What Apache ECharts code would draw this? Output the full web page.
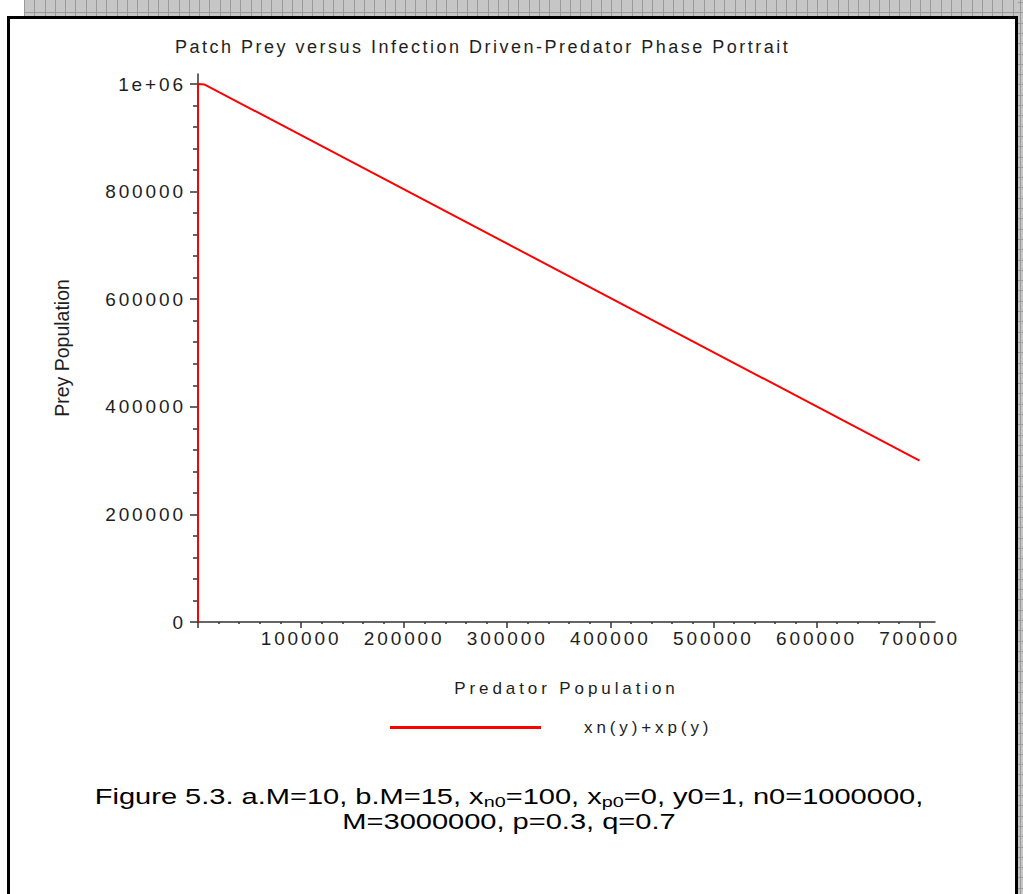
<!DOCTYPE html>
<html><head><meta charset="utf-8">
<script src="https://cdn.jsdelivr.net/npm/echarts@6/dist/echarts.min.js"></script>
<style>
html,body{margin:0;padding:0;background:#fff;}
#chart{width:1023px;height:894px;}
#chart text[style*="18px"]{letter-spacing:2.5px;}
#chart text[style*="19px"]{letter-spacing:2.9px;}
#chart text[style*="17px"]{letter-spacing:3.9px;}
</style></head><body><div id="chart"></div>
<script>
// ---- data ----
const predatorPop = [0, 0, 6500, 700000];
const preyPop = [0, 1000000, 999000, 300000];
const xTickValues = [0, 100000, 200000, 300000, 400000, 500000, 600000, 700000];
const xTickLabels = ['', '100000', '200000', '300000', '400000', '500000', '600000', '700000'];
const yTickValues = [0, 200000, 400000, 600000, 800000, 1000000];
const yTickLabels = ['0', '200000', '400000', '600000', '800000', '1e+06'];
const seriesName = 'xn(y)+xp(y)';
const titleText = 'Patch Prey versus Infection Driven-Predator Phase Portrait';
const xName = 'Predator Population';
const yName = 'Prey Population';

const xMinor = [], yMinor = [];
for (let i = 0; i < xTickValues.length - 1; i++) {
  const a = xTickValues[i], b = xTickValues[i + 1];
  for (let k = 1; k < 5; k++) xMinor.push(a + (b - a) * k / 5);
}
for (let i = 0; i < yTickValues.length - 1; i++) {
  const a = yTickValues[i], b = yTickValues[i + 1];
  for (let k = 1; k < 5; k++) yMinor.push(a + (b - a) * k / 5);
}

const FF = 'Liberation Sans';
const AX = '#333';
const TXT = '#1e1e1e';

// decorative hatched border
const deco = [];
deco.push({type:'rect', shape:{x:24,y:0,width:999,height:16}, style:{fill:'#c6c6c6'}, silent:true});
deco.push({type:'rect', shape:{x:1018,y:0,width:5,height:894}, style:{fill:'#c6c6c6'}, silent:true});
for (let x = 24; x < 1023; x += 10.3) {
  deco.push({type:'line', shape:{x1:Math.round(x)+0.5,y1:0,x2:Math.round(x)+0.5,y2:16}, style:{stroke:'#9a9a9a',lineWidth:1}, silent:true});
}
deco.push({type:'line', shape:{x1:24,y1:12.5,x2:1023,y2:12.5}, style:{stroke:'#9a9a9a',lineWidth:1}, silent:true});
for (let y = 2; y < 894; y += 10.3) {
  deco.push({type:'line', shape:{x1:1018,y1:Math.round(y)+0.5,x2:1023,y2:Math.round(y)+0.5}, style:{stroke:'#9a9a9a',lineWidth:1}, silent:true});
}
deco.push({type:'line', shape:{x1:1020.5,y1:0,x2:1020.5,y2:894}, style:{stroke:'#9a9a9a',lineWidth:1}, silent:true});
deco.push({type:'rect', shape:{x:8.5,y:17.5,width:1008,height:900}, style:{fill:'none',stroke:'#000',lineWidth:3}, silent:true});

// caption (horizontally stretched like the reference)
deco.push({
  type:'text', x:509, y:784, scaleX:1.32, silent:true,
  style:{
    text:'{n|Figure 5.3. a.M=10, b.M=15, x}{s|n0}{n|=100, x}{s|p0}{n|=0, y0=1, n0=1000000,}\n{n|M=3000000, p=0.3, q=0.7}',
    align:'center', verticalAlign:'top',
    rich:{
      n:{fontSize:22, fontFamily:FF, fill:'#000', lineHeight:25},
      s:{fontSize:15, fontFamily:FF, fill:'#000', lineHeight:15, verticalAlign:'bottom'}
    }
  }
});

const data = predatorPop.map((x, i) => [x, preyPop[i]]);
const fmtX = v => { const i = xTickValues.indexOf(v); return i >= 0 ? xTickLabels[i] : ''; };
const fmtY = v => { const i = yTickValues.indexOf(v); return i >= 0 ? yTickLabels[i] : ''; };

const chart = echarts.init(document.getElementById('chart'), null, {renderer:'svg'});
chart.setOption({
  animation:false,
  backgroundColor:'#fff',
  title:{text:titleText, left:170, top:33, textStyle:{fontSize:18, fontWeight:'normal', color:TXT, fontFamily:FF}},
  legend:{
    left:385, top:714, itemWidth:151, itemHeight:3, icon:'rect',
    data:[{name:seriesName}],
    formatter: n => '{t|' + n + '}',
    textStyle:{color:TXT, fontSize:17, fontFamily:FF, rich:{t:{fontSize:17, fontFamily:FF, color:TXT, padding:[0,0,0,38]}}}
  },
  grid:{left:198, right:88, top:74, bottom:272, containLabel:false},
  xAxis:[{
    type:'value', min:0, max:715000, position:'bottom',
    name:xName, nameLocation:'middle', nameGap:58,
    nameTextStyle:{fontSize:17, color:TXT, fontFamily:FF},
    axisLine:{show:true, lineStyle:{color:AX, width:1.5}},
    axisTick:{show:true, customValues:xTickValues, length:6, lineStyle:{color:AX, width:1.5}},
    axisLabel:{customValues:xTickValues, formatter:fmtX, fontSize:19, color:TXT, fontFamily:FF, margin:7},
    splitLine:{show:false}
  },{
    type:'value', min:0, max:715000, position:'bottom',
    axisLine:{show:false},
    axisTick:{show:true, customValues:xMinor, length:2, lineStyle:{color:AX, width:1.5}},
    axisLabel:{show:false}, splitLine:{show:false}
  }],
  yAxis:[{
    type:'value', min:0, max:1018600, position:'left',
    name:yName, nameLocation:'middle', nameGap:126, nameRotate:90,
    nameTextStyle:{fontSize:19.5, color:TXT, fontFamily:FF},
    axisLine:{show:true, lineStyle:{color:AX, width:1.5}},
    axisTick:{show:true, customValues:yTickValues, length:8, lineStyle:{color:AX, width:1.5}},
    axisLabel:{customValues:yTickValues, formatter:fmtY, fontSize:19, color:TXT, fontFamily:FF, margin:12},
    splitLine:{show:false}
  },{
    type:'value', min:0, max:1018600, position:'left', offset:0,
    axisLine:{show:false},
    axisTick:{show:true, customValues:yMinor, length:5, lineStyle:{color:AX, width:1.5}},
    axisLabel:{show:false}, splitLine:{show:false}
  }],
  series:[{
    name:seriesName, type:'line', data:data, xAxisIndex:0, yAxisIndex:0,
    showSymbol:false, symbol:'none', clip:false,
    lineStyle:{color:'#ff0000', width:2}, itemStyle:{color:'#ff0000'}
  }],
  graphic:deco
});
</script></body></html>
